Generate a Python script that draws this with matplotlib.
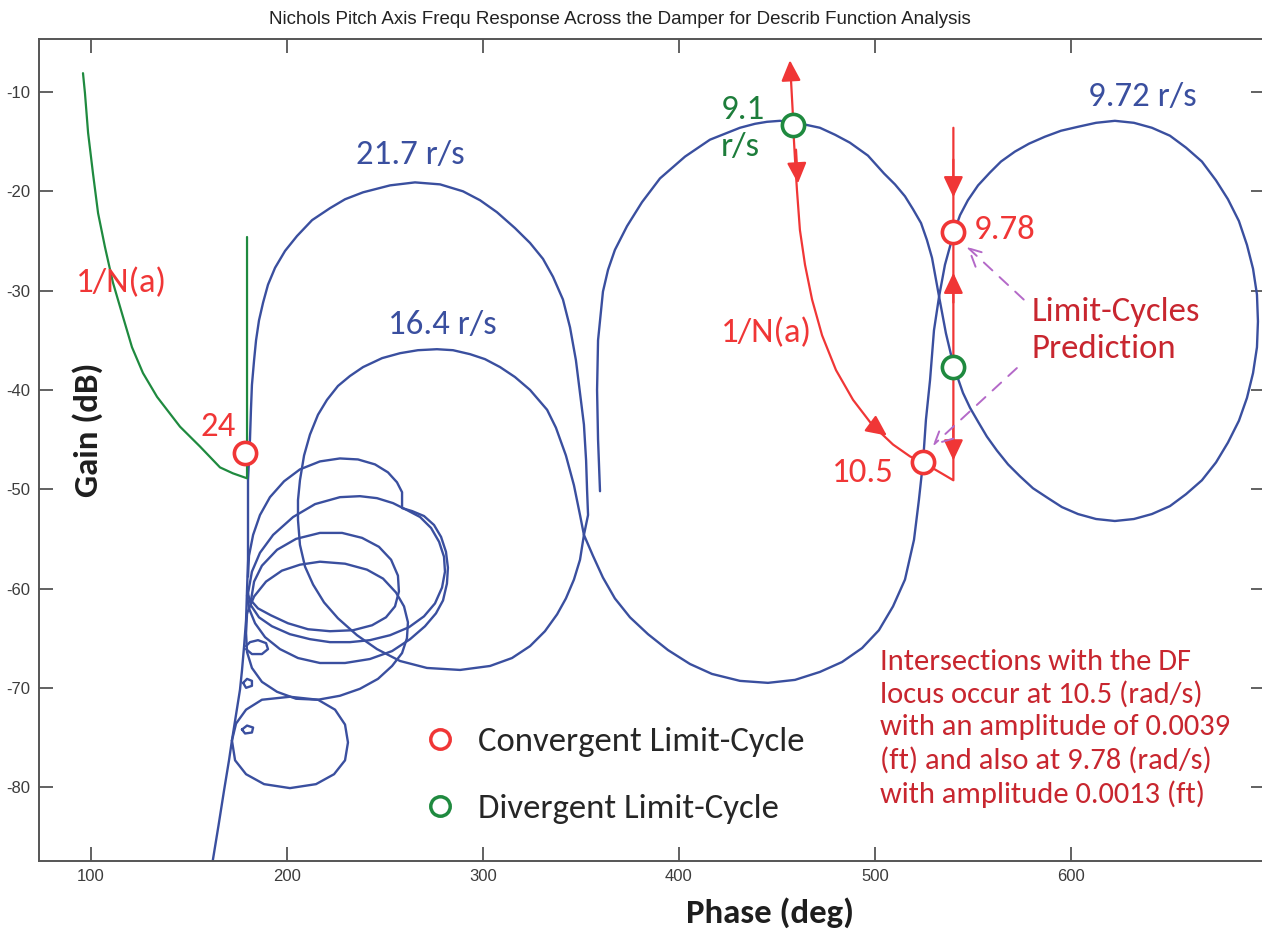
import matplotlib
matplotlib.use("Agg")
import matplotlib.pyplot as plt
from matplotlib.lines import Line2D

plt.rcParams["axes.unicode_minus"] = False

TEXT_FONT = ["Carlito", "Lato", "DejaVu Sans"]
AXIS_FONT = ["Liberation Sans Narrow", "Liberation Sans", "DejaVu Sans"]

BLUE = "#3a4f9f"
GREEN = "#1f8a3f"
RED = "#f03636"
DARK_RED = "#c8262f"
PURPLE = "#b469c8"

TITLE = "Nichols Pitch Axis Frequ Response Across the Damper for Describ Function Analysis"

x_ticks = [100, 200, 300, 400, 500, 600]
y_ticks = [-80, -70, -60, -50, -40, -30, -20, -10]

# open-loop locus: from the free end near 360 deg, round the
# 9.1 and 9.72 r/s loops, back through the 16.4 and 21.7 r/s lobes to the -180 spine
locus_phase = [359.7, 358.7, 358.2, 358.7, 361.2, 363.8, 367.3, 373.5, 381.1, 390.3,
               403.1, 415.8, 431.1, 438.8, 444.9, 451.5, 458.2, 464.8, 471.9, 479.6,
               487.2, 496.4, 504.6, 510.2, 515.3, 519.4, 523.5, 526.5, 529.1, 532.7,
               536.2, 540.3, 544.9, 548.5, 552.6, 557.1, 562.2, 567.9, 574.0, 580.6,
               588.3, 595.4, 603.6, 612.8, 622.4, 632.1, 641.3, 650.5, 658.7, 666.8,
               674.0, 680.1, 685.7, 689.8, 692.9, 694.9, 695.4, 694.9, 692.9, 689.8,
               685.7, 680.1, 674.0, 666.8, 658.7, 650.5, 641.3, 632.1, 622.4, 612.8,
               603.6, 594.9, 586.7, 578.6, 571.4, 564.3, 558.7, 552.6, 547.4, 543.4,
               540.3, 535.7, 532.7, 530.1, 528.1, 526.0, 524.5, 522.4, 519.9, 515.3,
               509.2, 502.0, 493.4, 483.2, 471.9, 459.2, 445.4, 431.1, 416.8, 405.6,
               394.4, 384.2, 375.0, 367.3, 361.2, 356.1, 351.5,
               349.5, 346.4, 342.3, 337.2, 332.7, 324.0, 316.3, 308.7, 301.0, 293.4,
               284.7, 276.5, 266.8, 257.7, 248.5, 238.8, 232.1, 226.0, 220.4, 215.8,
               211.7, 208.7, 206.6, 205.6, 205.6, 206.6, 209.2, 213.3, 218.9, 226.0,
               235.7, 245.9, 257.7, 271.4, 288.3, 303.6, 314.8, 324.0, 331.6, 337.8,
               342.3, 346.4, 349.5, 351.5,
               353.6, 353.1, 352.6, 351.5, 349.5, 347.4, 344.4, 340.8, 335.7, 330.6,
               324.0, 316.3, 307.1, 298.5, 289.8, 278.1, 265.3, 252.6, 238.8, 229.6,
               221.9, 212.8, 205.1, 199.0, 193.9, 190.3, 187.8, 185.7, 184.2, 183.2,
               182.1, 181.6, 181.1, 180.1, 180.1,
               180.1, 179.6, 179.1, 178.1, 177.0, 176.0, 174.0, 171.9, 170.4, 167.9,
               165.1, 162.2, 160.7]
locus_gain = [-50.2, -45.0, -40.0, -35.0, -30.1, -27.9, -25.9, -23.5, -21.1, -18.7,
              -16.5, -14.8, -13.6, -13.2, -13.0, -12.9, -13.1, -13.3, -13.6, -14.3,
              -15.1, -16.4, -18.2, -19.3, -20.5, -21.8, -23.2, -24.9, -26.7, -30.6,
              -34.3, -37.7, -40.3, -41.8, -43.2, -44.7, -46.1, -47.5, -48.7, -49.9,
              -50.9, -51.8, -52.5, -53.0, -53.2, -53.0, -52.5, -51.7, -50.5, -49.1,
              -47.3, -45.3, -43.1, -40.8, -38.3, -35.7, -33.1, -30.4, -27.8, -25.4,
              -23.0, -20.8, -18.9, -17.0, -15.6, -14.4, -13.6, -13.1, -12.9, -13.1,
              -13.5, -13.9, -14.5, -15.2, -16.0, -17.0, -18.1, -19.4, -20.9, -22.4,
              -24.1, -27.4, -30.6, -34.0, -39.0, -43.0, -47.3, -51.1, -55.1, -59.1,
              -61.8, -64.2, -66.0, -67.4, -68.4, -69.2, -69.5, -69.3, -68.6, -67.6,
              -66.2, -64.6, -62.9, -61.0, -58.9, -56.7, -54.6,
              -52.6, -49.6, -46.6, -43.8, -42.0, -40.0, -38.7, -37.7, -36.9, -36.4,
              -36.0, -35.9, -36.0, -36.3, -36.8, -37.7, -38.6, -39.6, -41.0, -42.5,
              -44.5, -46.6, -49.1, -51.1, -53.1, -55.6, -57.8, -59.6, -61.4, -63.0,
              -64.7, -66.1, -67.3, -68.0, -68.2, -67.8, -67.0, -65.8, -64.3, -62.6,
              -61.0, -59.1, -57.1, -54.6,
              -52.6, -50.1, -47.1, -43.5, -40.3, -37.0, -33.7, -30.9, -28.6, -26.8,
              -25.2, -23.7, -22.1, -20.9, -20.0, -19.3, -19.1, -19.4, -20.1, -20.8,
              -21.7, -22.9, -24.5, -26.0, -27.7, -29.4, -31.2, -33.0, -35.0, -37.0,
              -39.5, -42.0, -45.0, -49.1, -54.1,
              -57.1, -60.2, -63.2, -65.8, -68.3, -70.2, -72.7, -75.3, -77.3, -80.3,
              -83.8, -87.3, -89.3]

# high-frequency loops hanging off the -180 spine
loop_a_phase = [180.1, 180.6, 182.7, 186.2, 191.3, 198.5, 206.6, 216.8, 227.0, 236.2, 244.9, 251.5,
                256.1, 258.7, 258.7, 263.8, 269.9, 275.0, 278.6, 281.1, 282.1, 281.6, 279.6, 276.0,
                270.4, 262.8, 253.6, 242.3, 229.6, 216.8, 205.6, 196.4, 188.8, 183.7, 180.6, 179.6]
loop_a_gain = [-58.8, -56.7, -54.6, -52.6, -50.8, -49.2, -48.0, -47.2, -46.9, -47.0, -47.5, -48.3,
               -49.3, -50.3, -51.9, -52.2, -52.7, -53.6, -54.8, -56.3, -57.9, -59.5, -61.2, -62.5,
               -63.8, -65.1, -66.3, -67.1, -67.5, -67.5, -67.0, -66.1, -64.9, -63.5, -62.0, -60.7]
loop_b_phase = [180.1, 182.1, 186.2, 192.9, 203.1, 214.3, 227.0, 237.2, 245.9, 254.1, 261.2, 267.9,
                273.5, 277.6, 280.1, 280.6, 279.1, 275.5, 269.9, 262.2, 252.6, 242.3, 232.1, 221.9,
                211.7, 201.5, 192.3, 185.7, 181.6, 180.1]
loop_b_gain = [-60.5, -58.3, -56.4, -54.6, -52.8, -51.5, -50.8, -50.7, -50.9, -51.4, -52.1, -52.8,
               -53.9, -55.3, -56.8, -58.3, -59.9, -61.5, -62.8, -63.9, -64.7, -65.2, -65.4, -65.4,
               -65.1, -64.6, -63.8, -62.9, -61.7, -60.5]
loop_c_phase = [181.6, 183.2, 187.2, 194.9, 204.6, 216.8, 228.1, 238.3, 246.9, 253.1, 256.6, 257.1,
                255.1, 250.5, 243.4, 233.7, 221.9, 210.7, 200.5, 191.8, 185.2, 181.6]
loop_c_gain = [-61.2, -59.3, -57.7, -56.1, -55.0, -54.4, -54.4, -54.9, -55.8, -57.1, -58.7, -60.3,
               -61.8, -62.9, -63.7, -64.2, -64.3, -64.1, -63.5, -62.7, -62.0, -61.2]
loop_d_phase = [179.6, 183.2, 189.3, 197.4, 206.6, 216.8, 229.6, 240.8, 249.0, 255.6, 259.7, 261.7,
                261.2, 258.7, 253.6, 246.4, 237.2, 227.0, 215.8, 204.6, 194.9, 187.2, 182.1, 179.6,
                179.1, 179.6]
loop_d_gain = [-62.5, -60.8, -59.3, -58.2, -57.6, -57.3, -57.5, -58.1, -59.0, -60.4, -61.8, -63.4,
               -65.0, -66.5, -67.8, -69.1, -70.1, -70.8, -71.2, -71.1, -70.4, -69.4, -68.0, -66.4,
               -64.5, -62.5]
loop_e_phase = [171.9, 174.0, 179.1, 187.2, 201.5, 215.8, 224.5, 229.6, 231.1, 229.6, 224.0, 214.8,
                201.5, 188.3, 179.1, 173.5, 171.9]
loop_e_gain = [-75.3, -73.6, -72.2, -71.2, -70.9, -71.2, -72.2, -73.7, -75.5, -77.3, -78.7, -79.7,
               -80.1, -79.7, -78.7, -77.3, -75.3]
kink_1_phase = [179.1, 181.1, 185.2, 189.3, 190.3, 187.2, 182.1, 179.1]
kink_1_gain = [-65.8, -65.4, -65.2, -65.5, -66.1, -66.6, -66.6, -66.1]
kink_2_phase = [177.6, 179.6, 182.1, 182.1, 179.1, 177.6]
kink_2_gain = [-69.5, -69.1, -69.3, -69.8, -70.0, -69.5]
kink_3_phase = [177.0, 179.6, 182.7, 182.1, 178.6, 177.0]
kink_3_gain = [-74.2, -73.8, -74.0, -74.5, -74.6, -74.2]
spine_loops = [(loop_a_phase, loop_a_gain), (loop_b_phase, loop_b_gain),
               (loop_c_phase, loop_c_gain), (loop_d_phase, loop_d_gain),
               (loop_e_phase, loop_e_gain), (kink_1_phase, kink_1_gain),
               (kink_2_phase, kink_2_gain), (kink_3_phase, kink_3_gain)]

# describing function loci (-1/N(a))
df_left_phase = [95.9, 96.9, 98.5, 101.0, 103.6, 107.1, 111.2, 115.8, 120.9, 126.5, 133.7,
                 145.4, 155.6, 165.8, 172.4, 179.6, 179.6]
df_left_gain = [-8.1, -10.1, -14.1, -18.2, -22.2, -25.6, -29.2, -32.3, -35.7, -38.3, -40.7,
                -43.7, -45.7, -47.8, -48.4, -48.9, -24.6]
df_mid_phase = [458.2, 459.2, 460.2, 461.7, 464.3, 467.9, 473.0, 480.1, 488.8, 498.5, 509.2,
                517.9, 524.5]
df_mid_gain = [-13.3, -16.8, -19.9, -23.9, -27.4, -30.9, -34.5, -38.0, -41.0, -43.5, -45.5,
               -46.7, -47.3]
df_vert_phase = [524.5, 540.0, 540.0]
df_vert_gain = [-47.3, -49.1, -13.6]

# direction arrows along the DF loci: (tail, head)
df_arrows = [((458.2, -12.6), (456.6, -6.8)),
             ((459.7, -15.8), (460.7, -19.2)),
             ((498.5, -43.5), (506.1, -44.6)),
             ((540.0, -16.8), (540.0, -20.6)),
             ((540.0, -31.2), (540.0, -28.2)),
             ((540.0, -43.6), (540.0, -47.1))]

# limit-cycle intersections
conv_phase = [178.6, 524.5, 540.0]
conv_gain = [-46.4, -47.3, -24.1]
div_phase = [458.2, 540.0]
div_gain = [-13.3, -37.7]

pred_arrows = [((575.9, -30.9), (547.0, -25.6)),
               ((572.4, -37.8), (529.5, -45.6))]

note = ("Intersections with the DF\nlocus occur at 10.5 (rad/s)\nwith an amplitude of 0.0039\n"
        "(ft) and also at 9.78 (rad/s)\nwith amplitude 0.0013 (ft)")

W, H = 1262, 932
fig = plt.figure(figsize=(W / 100, H / 100), dpi=100)
fig.patch.set_facecolor("white")
ax = fig.add_axes([38.5 / W, (H - 861) / H, 1226.5 / W, 822.5 / H])

line_kw = dict(solid_joinstyle="round", solid_capstyle="round")
ax.plot(locus_phase, locus_gain, color=BLUE, lw=1.7, zorder=2, **line_kw)
for ph, g in spine_loops:
    ax.plot(ph, g, color=BLUE, lw=1.7, zorder=2, **line_kw)

ax.plot(df_left_phase, df_left_gain, color=GREEN, lw=1.6, zorder=3, **line_kw)
ax.plot(df_mid_phase, df_mid_gain, color=RED, lw=1.6, zorder=3, **line_kw)
ax.plot(df_vert_phase, df_vert_gain, color=RED, lw=1.6, zorder=3, **line_kw)

for tail, head in df_arrows:
    ax.annotate("", xy=head, xytext=tail,
                arrowprops=dict(arrowstyle="-|>,head_length=0.7,head_width=0.33",
                                color=RED, lw=1.6, mutation_scale=18,
                                shrinkA=0, shrinkB=0), zorder=4)

for tail, head in pred_arrows:
    ax.annotate("", xy=head, xytext=tail,
                arrowprops=dict(arrowstyle="->,head_length=0.7,head_width=0.35",
                                color=PURPLE, lw=1.4, ls=(0, (6, 5)), mutation_scale=18,
                                shrinkA=0, shrinkB=0), zorder=4)

ax.plot(conv_phase, conv_gain, ls="none", marker="o", ms=16, mfc="white", mec=RED,
        mew=2.6, zorder=5)
ax.plot(div_phase, div_gain, ls="none", marker="o", ms=16, mfc="white", mec=GREEN,
        mew=2.6, zorder=5)

lbl = dict(family=TEXT_FONT, fontsize=25, ha="center", va="center", zorder=6)
ax.text(115.6, -29.2, "1/N(a)", color=RED, **lbl)
ax.text(164.8, -43.7, "24", color=RED, **lbl)
ax.text(262.8, -16.3, "21.7 r/s", color=BLUE, **lbl)
ax.text(279.1, -33.5, "16.4 r/s", color=BLUE, **lbl)
ax.text(444.4, -34.3, "1/N(a)", color=RED, **lbl)
ax.text(493.9, -48.4, "10.5", color=RED, **lbl)
ax.text(636.2, -10.5, "9.72 r/s", color=BLUE, **lbl)
ax.text(550.5, -23.9, "9.78", color=RED, family=TEXT_FONT, fontsize=25, ha="left",
        va="center")
ax.text(421.4, -13.7, "9.1\nr/s", color="#1d7d3b", family=TEXT_FONT, fontsize=25,
        ha="left", va="center", linespacing=1.3)
ax.text(580.1, -34.0, "Limit-Cycles\nPrediction", color=DARK_RED, family=TEXT_FONT,
        fontsize=25, ha="left", va="center", linespacing=1.3)
ax.text(502.6, -74.1, note, color=DARK_RED, family=TEXT_FONT, fontsize=22,
        ha="left", va="center", linespacing=1.3)

handles = [Line2D([], [], ls="none", marker="o", ms=14, mfc="white", mec=RED, mew=2.5,
                  label="Convergent Limit-Cycle"),
           Line2D([], [], ls="none", marker="o", ms=14, mfc="white", mec=GREEN, mew=2.5,
                  label="Divergent Limit-Cycle")]
leg = ax.legend(handles=handles, loc="center left", bbox_to_anchor=(0.3132, 0.104),
                frameon=False, handlelength=1.0, handletextpad=0.6, labelspacing=1.05,
                borderpad=0, borderaxespad=0, prop=dict(family=TEXT_FONT, size=25))
for t in leg.get_texts():
    t.set_color("#262626")

ax.set_xlim(73.2, 699.0)
ax.set_ylim(-87.44, -4.61)
ax.set_xticks(x_ticks)
ax.set_yticks(y_ticks)
ax.tick_params(direction="in", length=10, width=1.3, top=True, right=True, pad=6,
               color="#555555", labelcolor="#3c3c3c", labelsize=12)
for lab in ax.get_xticklabels() + ax.get_yticklabels():
    lab.set_family(AXIS_FONT)
for sp in ax.spines.values():
    sp.set_color("#555555")
    sp.set_linewidth(1.4)

ax.set_xlabel("Phase (deg)", family=TEXT_FONT, fontsize=25, fontweight="bold",
              color="#1e1e1e", va="center")
ax.xaxis.set_label_coords((770 - 38.5) / 1226.5, -(913 - 861) / 822.5)
ax.set_ylabel("Gain (dB)", family=TEXT_FONT, fontsize=25, fontweight="bold",
              color="#1e1e1e", va="center")
ax.yaxis.set_label_coords((88 - 38.5) / 1226.5, (861 - 430) / 822.5)

fig.text(620 / W, 1 - 20 / H, TITLE, ha="center", va="center", fontsize=13.5,
         family=AXIS_FONT, color="#222222")

fig.savefig("out.png", dpi=100, facecolor="white")
